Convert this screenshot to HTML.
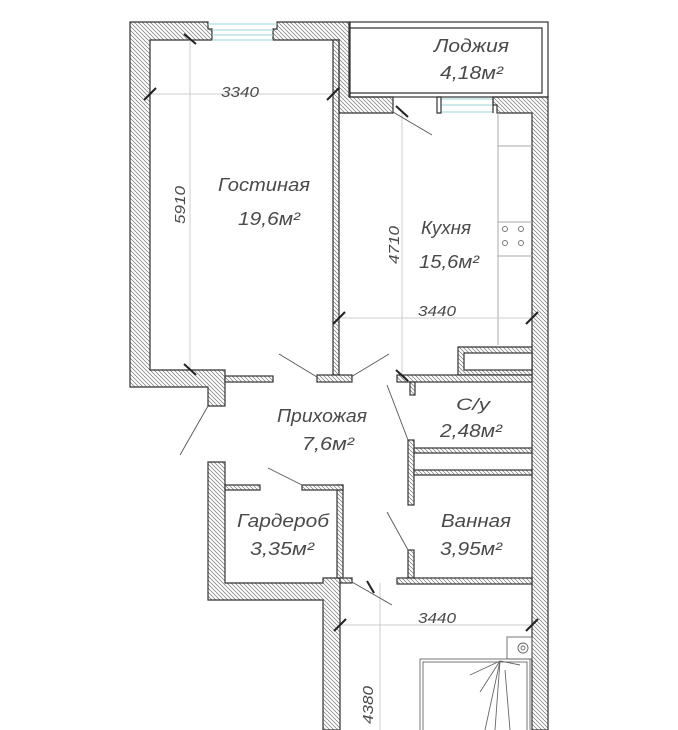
<!DOCTYPE html>
<html><head><meta charset="utf-8"><style>
html,body{margin:0;padding:0;background:#fff;width:678px;height:730px;overflow:hidden}
text{font-family:"Liberation Sans",sans-serif;font-style:italic;fill:#4a4a4a;font-weight:normal}
</style></head><body>
<svg width="678" height="730" viewBox="0 0 678 730" xmlns="http://www.w3.org/2000/svg">
<defs>
<pattern id="h" width="4" height="4" patternUnits="userSpaceOnUse">
<rect width="4" height="4" fill="#fff"/>
<path d="M-1,-1 L5,5 M-1,3 L1,5 M3,-1 L5,1" stroke="#777" stroke-width="0.7"/>
</pattern>
</defs>
<g fill="url(#h)" stroke="#333" stroke-width="1.2">
<polygon points="130,22 208,22 208,29 212,29 212,40 150,40 150,370 208,370 225,370 225,406 208,406 208,387 130,387"/>
<polygon points="277,22 349,22 349,97 393,97 393,113 339,113 339,40 273,40 273,29 277,29"/>
<rect x="333" y="40" width="6" height="335"/>
<rect x="225" y="376" width="48" height="6"/>
<rect x="317" y="375" width="35" height="7"/>
<polygon points="493,97 548,97 548,730 532,730 532,113 497,113 497,105 493,105"/>
<polygon points="458,347 532,347 532,375 458,375"/>
<rect x="397" y="375" width="135" height="7"/>
<rect x="410" y="382" width="5" height="13"/>
<rect x="408" y="440" width="6" height="65"/>
<rect x="414" y="448" width="118" height="5"/>
<rect x="414" y="470" width="118" height="5"/>
<rect x="408" y="550" width="6" height="28"/>
<rect x="397" y="578" width="135" height="6"/>
<polygon points="208,462 225,462 225,583 323,583 323,578 340,578 340,730 323,730 323,600 208,600"/>
<rect x="337" y="485" width="6" height="93"/>
<rect x="225" y="485" width="35" height="5"/>
<rect x="302" y="485" width="41" height="5"/>
<rect x="340" y="578" width="12" height="5"/>
</g>
<rect x="464" y="353" width="68" height="17" fill="#fff" stroke="#333" stroke-width="1.2"/>
<g stroke="#9fd6d6" stroke-width="1">
<line x1="208" y1="24" x2="277" y2="24"/><line x1="212" y1="30" x2="273" y2="30"/><line x1="212" y1="35" x2="273" y2="35"/><line x1="212" y1="40" x2="273" y2="40"/>
<line x1="441" y1="99" x2="493" y2="99"/><line x1="441" y1="105" x2="493" y2="105"/><line x1="441" y1="112" x2="493" y2="112"/>
</g>
<g stroke="#333" stroke-width="1.2" fill="none">
<polyline points="437,97 441,97 441,113 437,113 437,97"/>
<line x1="493" y1="97" x2="493" y2="113"/>
<rect x="350" y="22" width="198" height="75"/>
<polyline points="350,28 542,28 542,93 350,93"/>
</g>
<g stroke="#aaa" stroke-width="1" fill="none">
<line x1="498" y1="113" x2="498" y2="345"/>
<line x1="498" y1="146" x2="532" y2="146"/>
<line x1="498" y1="222" x2="532" y2="222"/>
<line x1="498" y1="256" x2="532" y2="256"/>
<circle cx="505" cy="229" r="2.5" stroke="#777"/><circle cx="521" cy="229" r="2.5" stroke="#777"/>
<circle cx="505" cy="243" r="2.5" stroke="#777"/><circle cx="521" cy="243" r="2.5" stroke="#777"/>
</g>
<g stroke="#ccc" stroke-width="1">
<line x1="150" y1="94" x2="333" y2="94"/>
<line x1="190" y1="40" x2="190" y2="370"/>
<line x1="402" y1="113" x2="402" y2="375"/>
<line x1="339" y1="318" x2="532" y2="318"/>
<line x1="340" y1="625" x2="532" y2="625"/>
<line x1="380" y1="583" x2="380" y2="730"/>
</g>
<g stroke="#222" stroke-width="2">
<line x1="144" y1="100" x2="156" y2="88"/><line x1="327" y1="100" x2="339" y2="88"/>
<line x1="184" y1="34" x2="196" y2="44"/><line x1="184" y1="364" x2="196" y2="375"/>
<line x1="396" y1="106" x2="408" y2="117"/><line x1="396" y1="370" x2="408" y2="381"/>
<line x1="333" y1="324" x2="345" y2="312"/><line x1="526" y1="324" x2="538" y2="312"/>
<line x1="334" y1="631" x2="346" y2="619"/><line x1="526" y1="631" x2="538" y2="619"/>
<line x1="367" y1="581" x2="374" y2="593"/>
</g>
<g stroke="#555" stroke-width="0.9">
<line x1="393" y1="112" x2="432" y2="135"/>
<line x1="279" y1="354" x2="317" y2="377"/>
<line x1="389" y1="354" x2="351" y2="377"/>
<line x1="387" y1="385" x2="408" y2="440"/>
<line x1="387" y1="512" x2="408" y2="550"/>
<line x1="268" y1="468" x2="302" y2="485"/>
<line x1="352" y1="582" x2="392" y2="605"/>
<line x1="208" y1="406" x2="180" y2="455"/>
</g>
<g stroke="#666" stroke-width="0.9" fill="none">
<rect x="507" y="637" width="25" height="22"/>
<circle cx="523" cy="648" r="5"/><circle cx="523" cy="648" r="2"/>
<rect x="420" y="659" width="110" height="75"/>
<rect x="423" y="662" width="104" height="70"/>
<path d="M500,661 L470,675 M500,661 L480,692 M500,661 L485,730 M500,661 L495,730 M500,661 L520,665 M505,670 L510,730"/>
</g>
<g font-size="18">
<text x="434" y="52" textLength="75" lengthAdjust="spacingAndGlyphs">Лоджия</text>
<text x="440" y="79" textLength="63" lengthAdjust="spacingAndGlyphs">4,18м²</text>
<text x="218" y="191" textLength="92" lengthAdjust="spacingAndGlyphs">Гостиная</text>
<text x="238" y="225" textLength="62" lengthAdjust="spacingAndGlyphs">19,6м²</text>
<text x="421" y="234" textLength="50" lengthAdjust="spacingAndGlyphs">Кухня</text>
<text x="419" y="268" textLength="60" lengthAdjust="spacingAndGlyphs">15,6м²</text>
<text x="277" y="422" textLength="90" lengthAdjust="spacingAndGlyphs">Прихожая</text>
<text x="302" y="450" textLength="52" lengthAdjust="spacingAndGlyphs">7,6м²</text>
<text x="456" y="410" font-size="17" textLength="34" lengthAdjust="spacingAndGlyphs">С/у</text>
<text x="440" y="437" textLength="62" lengthAdjust="spacingAndGlyphs">2,48м²</text>
<text x="237" y="527" textLength="92" lengthAdjust="spacingAndGlyphs">Гардероб</text>
<text x="250" y="555" textLength="64" lengthAdjust="spacingAndGlyphs">3,35м²</text>
<text x="441" y="527" textLength="70" lengthAdjust="spacingAndGlyphs">Ванная</text>
<text x="440" y="555" textLength="62" lengthAdjust="spacingAndGlyphs">3,95м²</text>
</g>
<g font-size="15">
<text x="221" y="97" textLength="38" lengthAdjust="spacingAndGlyphs">3340</text>
<text x="418" y="316" textLength="38" lengthAdjust="spacingAndGlyphs">3440</text>
<text x="418" y="623" textLength="38" lengthAdjust="spacingAndGlyphs">3440</text>
<text transform="translate(185,224) rotate(-90)" textLength="38" lengthAdjust="spacingAndGlyphs">5910</text>
<text transform="translate(399,264) rotate(-90)" textLength="38" lengthAdjust="spacingAndGlyphs">4710</text>
<text transform="translate(373,724) rotate(-90)" textLength="38" lengthAdjust="spacingAndGlyphs">4380</text>
</g>
</svg>
</body></html>
